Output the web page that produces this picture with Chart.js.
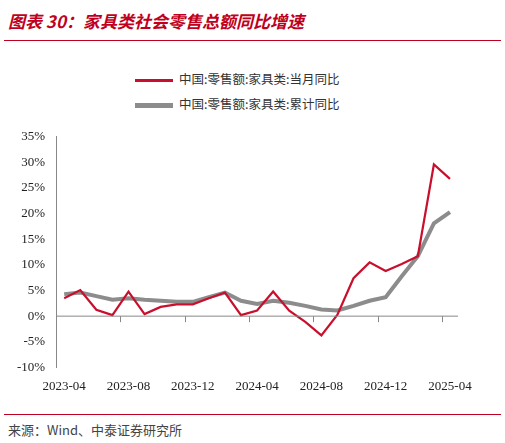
<!DOCTYPE html>
<html><head><meta charset="utf-8">
<script src="https://cdn.jsdelivr.net/npm/chart.js@4"></script>
<style>
body{margin:0;width:505px;height:443px;background:#fff;position:relative;overflow:hidden;font-family:"Noto Sans CJK SC",sans-serif}
#title{position:absolute;left:8px;top:8px;color:#c00020;font-size:17px;font-style:italic;font-weight:bold}
#tline{position:absolute;left:4px;right:4px;top:40px;border-top:1px solid #c00020}
#legend{position:absolute;left:135px;top:66px;font-size:12.5px;color:#333;line-height:25px}
#legend span.l{display:inline-block;width:38px;height:0;vertical-align:middle;margin-right:6px}
#wrap{position:absolute;left:0;top:126px;width:478px;height:271px}
#bline{position:absolute;left:4px;right:4px;top:414px;border-top:1px solid #c00020}
#src{position:absolute;left:8px;top:420px;font-size:13px;color:#444}
</style></head><body>
<div id="title">图表 30：家具类社会零售总额同比增速</div>
<div id="tline"></div>
<div id="legend">
<div><span class="l" style="border-top:3px solid #c8102e"></span>中国:零售额:家具类:当月同比</div>
<div><span class="l" style="border-top:5px solid #8c8c8c"></span>中国:零售额:家具类:累计同比</div>
</div>
<div id="wrap"><canvas id="c"></canvas></div>
<div id="bline"></div>
<div id="src">来源：Wind、中泰证券研究所</div>
<script>
const months = ['2023-04','2023-05','2023-06','2023-07','2023-08','2023-09','2023-10','2023-11','2023-12',
 '2024-01','2024-02','2024-03','2024-04','2024-05','2024-06','2024-07','2024-08','2024-09','2024-10','2024-11','2024-12',
 '2025-01','2025-02','2025-03','2025-04'];
const monthly = [3.5,5.1,1.25,0.2,4.8,0.4,1.8,2.3,2.3,3.5,4.6,0.2,1.1,4.8,1.05,-1.1,-3.75,0.3,7.4,10.5,8.8,10.2,11.7,29.6,26.8];
const cumulative = [4.3,4.6,3.9,3.2,3.5,3.2,3.0,2.8,2.8,3.7,4.6,3.0,2.4,3.0,2.6,2.0,1.3,1.1,2.0,3.0,3.7,7.8,11.7,18.1,20.3];
const yTicks = [-10,-5,0,5,10,15,20,25,30,35];

const zeroAxis = {
  id:'zeroAxis',
  afterDatasetsDraw(chart){
    const {ctx, scales:{x,y}} = chart;
    const y0 = y.getPixelForValue(0);
    ctx.save();
    ctx.strokeStyle='#888'; ctx.lineWidth=1;
    ctx.beginPath(); ctx.moveTo(x.left,y0); ctx.lineTo(x.right,y0);
    const step = x.getPixelForValue(1)-x.getPixelForValue(0);
    for(let i=4;i<months.length;i+=4){
      const px = Math.round(x.getPixelForValue(i)-step/2)+0.5;
      ctx.moveTo(px,y0); ctx.lineTo(px,y0+6);
    }
    ctx.stroke(); ctx.restore();
  }
};

new Chart(document.getElementById('c'),{
  type:'line',
  data:{labels:months,datasets:[
    {label:'当月同比',data:monthly,borderColor:'#c8102e',borderWidth:2.2,pointRadius:0,tension:0},
    {label:'累计同比',data:cumulative,borderColor:'#8c8c8c',borderWidth:4,pointRadius:0,tension:0}
  ]},
  options:{responsive:true,maintainAspectRatio:false,animation:false,
    layout:{padding:{left:14,right:20}},
    plugins:{legend:{display:false},tooltip:{enabled:false}},
    scales:{
      x:{offset:true,grid:{display:false},border:{display:false},
        ticks:{autoSkip:false,maxRotation:0,color:'#222',font:{family:'Liberation Serif',size:13},
          callback(v,i){return i%4===0?months[i]:'';}}},
      y:{min:-10,max:35,grid:{display:false,drawTicks:true},border:{color:'#888'},
        afterBuildTicks(s){s.ticks=yTicks.map(v=>({value:v}));},
        ticks:{color:'#222',font:{family:'Liberation Serif',size:13},callback:v=>v+'%'}}
    }},
  plugins:[zeroAxis]
});
</script>
</body></html>
